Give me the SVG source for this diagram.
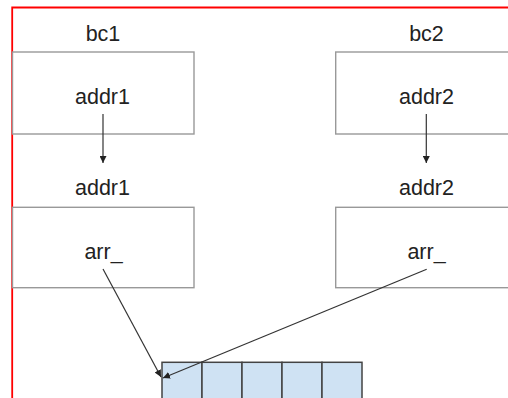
<svg xmlns="http://www.w3.org/2000/svg" width="508" height="398" viewBox="0 0 508 398">
<defs>
<marker id="ah" viewBox="0 0 10 10" refX="10" refY="5" markerWidth="7" markerHeight="7" markerUnits="userSpaceOnUse" orient="auto">
<path d="M0,0 L10,5 L0,10 z" fill="#222"/>
</marker>
<style>
.box{fill:#fff;stroke:#999;stroke-width:1.4}
.cell{fill:#cfe2f3;stroke:#434343;stroke-width:1.5}
.lbl{font-family:"Liberation Sans",Arial,sans-serif;font-size:21.5px;fill:#222;text-anchor:middle}
.conn{stroke:#333;stroke-width:1.2;fill:none;marker-end:url(#ah)}
</style>
</defs>
<rect width="508" height="398" fill="#fff"/>
<path d="M12.2,398 V7.5 H508" fill="none" stroke="#f00" stroke-width="1.8"/>
<g id="bc1">
<text class="lbl" x="103" y="41">bc1</text>
<rect class="box" x="12.5" y="52" width="181.5" height="82"/>
<text class="lbl" x="102.5" y="104">addr1</text>
</g>
<g id="bc2">
<text class="lbl" x="426.5" y="41">bc2</text>
<rect class="box" x="335.7" y="52" width="200" height="82"/>
<text class="lbl" x="426.5" y="104">addr2</text>
</g>
<g id="obj1">
<text class="lbl" x="102.5" y="195">addr1</text>
<rect class="box" x="12.5" y="207.3" width="181.5" height="80.4"/>
<text class="lbl" x="103.5" y="259">arr_</text>
</g>
<g id="obj2">
<text class="lbl" x="426.5" y="195">addr2</text>
<rect class="box" x="335.7" y="207.3" width="200" height="80.4"/>
<text class="lbl" x="426.5" y="259">arr_</text>
</g>
<g id="array">
<rect class="cell" x="162" y="362.3" width="40" height="50"/>
<rect class="cell" x="202" y="362.3" width="40" height="50"/>
<rect class="cell" x="242" y="362.3" width="40" height="50"/>
<rect class="cell" x="282" y="362.3" width="40" height="50"/>
<rect class="cell" x="322" y="362.3" width="40" height="50"/>
</g>
<g id="connectors">
<line class="conn" x1="103" y1="114" x2="103" y2="163"/>
<line class="conn" x1="426.3" y1="114" x2="426.3" y2="163"/>
<line class="conn" x1="103" y1="269" x2="161" y2="377"/>
<line class="conn" x1="426.7" y1="269.3" x2="163" y2="378"/>
</g>
</svg>
